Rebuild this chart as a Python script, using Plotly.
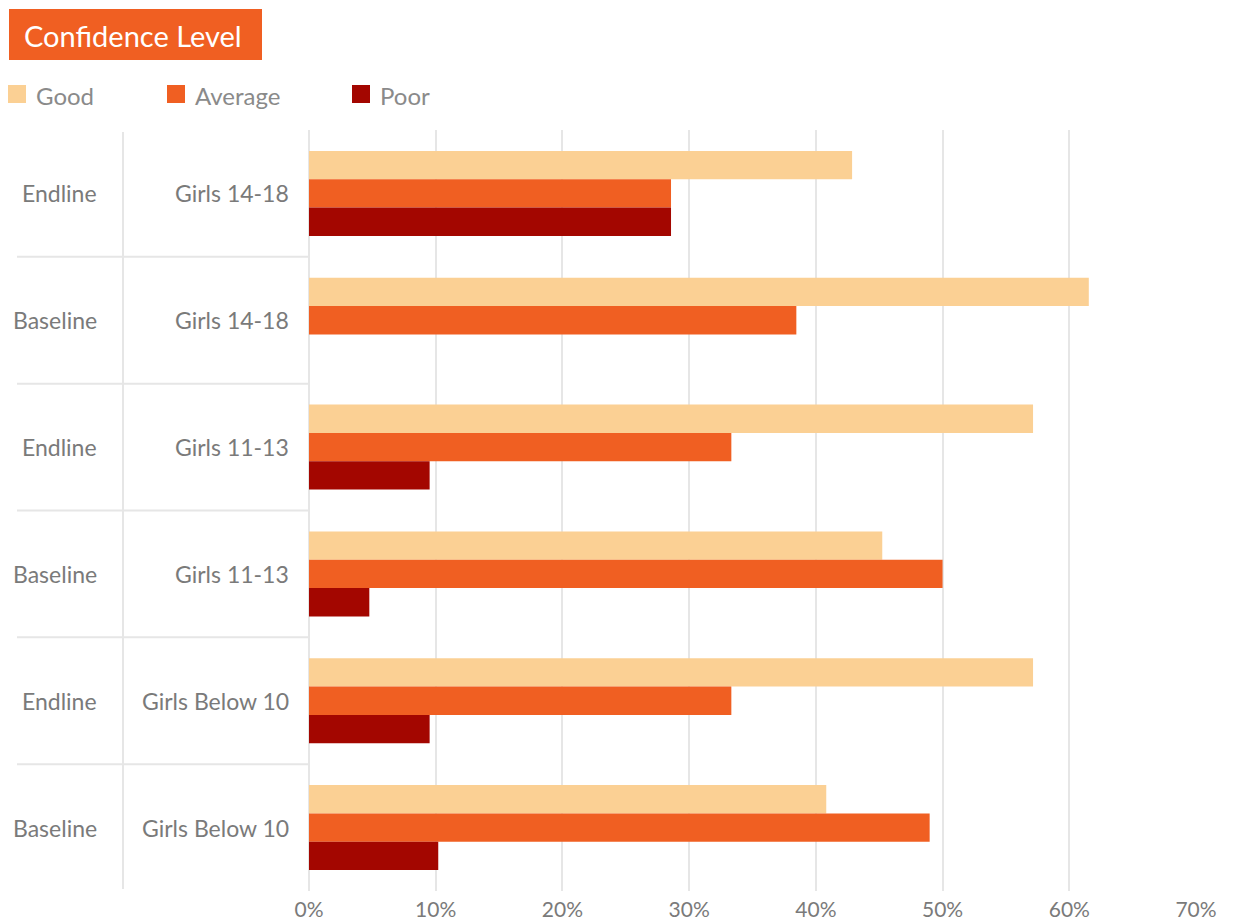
import plotly.graph_objects as go

# Survey phases and age groups, listed top to bottom
phases = ["Endline", "Baseline", "Endline", "Baseline", "Endline", "Baseline"]
groups = ["Girls 14-18", "Girls 14-18", "Girls 11-13", "Girls 11-13", "Girls Below 10", "Girls Below 10"]

# Share of respondents (%) per confidence level
good = [42.86, 61.54, 57.14, 45.24, 57.14, 40.82]
average = [28.57, 38.46, 33.33, 50.00, 33.33, 48.98]
poor = [28.57, 0.0, 9.52, 4.76, 9.52, 10.20]

levels = ["Good", "Average", "Poor"]
colors = ["#FBD094", "#F05F22", "#A30600"]

x_ticks = [0, 10, 20, 30, 40, 50, 60, 70]
x_tick_labels = [f"{v}%" for v in x_ticks]

W, H = 1234, 924
M_L, M_R, M_T, M_B = 309, 38, 130, 33
PW, PH = W - M_L - M_R, H - M_T - M_B
FONT = "Lato"
TEXT = "#7a7a7a"


def fx(px):
    return (px - M_L) / PW


def fy(py):
    return (H - M_B - py) / PH


rows = [f"{p}|{g}|{i}" for i, (p, g) in enumerate(zip(phases, groups))]

fig = go.Figure()
for name, vals, col in zip(levels, [good, average, poor], colors):
    fig.add_trace(go.Bar(
        y=rows, x=vals, name=name, orientation="h",
        marker=dict(color=col, line=dict(width=0)),
        showlegend=False,
    ))

shapes = []
annotations = []

# Row labels: phase column and group column
for r, p, g in zip(rows, phases, groups):
    annotations.append(dict(x=fx(99), y=r, xref="paper", yref="y", text=p,
                            xanchor="right", yanchor="middle", showarrow=False,
                            font=dict(family=FONT, size=23, color=TEXT)))
    annotations.append(dict(x=fx(291), y=r, xref="paper", yref="y", text=g,
                            xanchor="right", yanchor="middle", showarrow=False,
                            font=dict(family=FONT, size=23, color=TEXT)))

# Row separators in the label area
for i in range(len(rows) - 1):
    shapes.append(dict(type="line", xref="paper", yref="y",
                       x0=fx(17), x1=fx(308), y0=i + 0.5, y1=i + 0.5,
                       line=dict(color="#e6e6e6", width=2)))
# Column divider between phase and group labels
shapes.append(dict(type="line", xref="paper", yref="paper",
                   x0=fx(123), x1=fx(123), y0=fy(889), y1=fy(132),
                   line=dict(color="#e6e6e6", width=2)))

# Title banner
shapes.append(dict(type="rect", xref="paper", yref="paper",
                   x0=fx(9), x1=fx(262), y0=fy(60), y1=fy(9),
                   fillcolor="#F05F22", line=dict(width=0)))
annotations.append(dict(x=fx(133), y=fy(36), xref="paper", yref="paper",
                        text="Confidence Level", showarrow=False,
                        xanchor="center", yanchor="middle",
                        font=dict(family=FONT, size=29, color="white")))

# Legend swatches and labels
legend_x = [8, 167, 352]
for name, col, lx in zip(levels, colors, legend_x):
    shapes.append(dict(type="rect", xref="paper", yref="paper",
                       x0=fx(lx), x1=fx(lx + 18), y0=fy(103), y1=fy(85),
                       fillcolor=col, line=dict(width=0)))
    annotations.append(dict(x=fx(lx + 26), y=fy(95), xref="paper", yref="paper",
                            text=name, showarrow=False,
                            xanchor="left", yanchor="middle",
                            font=dict(family=FONT, size=24, color="#8a8a8a")))

fig.update_layout(
    width=W, height=H,
    margin=dict(l=M_L, r=M_R, t=M_T, b=M_B),
    paper_bgcolor="white", plot_bgcolor="white",
    barmode="group", bargap=0.33, bargroupgap=0,
    shapes=shapes, annotations=annotations,
    xaxis=dict(range=[0, 70], tickmode="array", tickvals=x_ticks, ticktext=x_tick_labels,
               showgrid=True, gridcolor="#e6e6e6", gridwidth=2,
               zeroline=True, zerolinecolor="#e6e6e6", zerolinewidth=2,
               showline=False, ticks="", ticklabelstandoff=4,
               tickfont=dict(family=FONT, size=21, color=TEXT),
               automargin=False, fixedrange=True),
    yaxis=dict(type="category", categoryarray=rows, categoryorder="array",
               autorange="reversed", showticklabels=False, showgrid=False,
               zeroline=False, showline=False, automargin=False, fixedrange=True),
)

fig.write_html("out.html")
